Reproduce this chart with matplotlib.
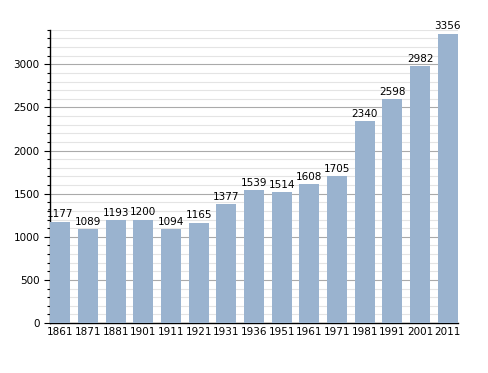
import matplotlib.pyplot as plt
import numpy as np
from matplotlib.ticker import MultipleLocator

years = ["1861", "1871", "1881", "1901", "1911", "1921", "1931", "1936",
         "1951", "1961", "1971", "1981", "1991", "2001", "2011"]
population = [1177, 1089, 1193, 1200, 1094, 1165, 1377, 1539,
              1514, 1608, 1705, 2340, 2598, 2982, 3356]

fig = plt.figure(figsize=(4.88, 3.73), dpi=100)
ax = fig.add_axes([0.1025, 0.134, 0.836, 0.786])

x = np.arange(len(years))
ax.bar(x, population, width=0.73, color="#9ab3cf", zorder=3)
for xi, v in zip(x, population):
    ax.text(xi, v + 25, str(v), ha="center", va="bottom", fontsize=7.5, zorder=4)

ax.set_xlim(-0.37, len(years) - 0.63)
ax.set_ylim(0, 3400)
ax.set_xticks(x)
ax.set_xticklabels(years, fontsize=7.5)
ax.yaxis.set_major_locator(MultipleLocator(500))
ax.yaxis.set_minor_locator(MultipleLocator(100))
ax.tick_params(axis="y", labelsize=7.5, length=4, width=0.8)
ax.tick_params(axis="y", which="minor", length=2.5, width=0.8)
ax.tick_params(axis="x", length=0, pad=3)
ax.grid(axis="y", which="major", color="#aaaaaa", linewidth=0.8, zorder=0)
ax.grid(axis="y", which="minor", color="#e4e4e4", linewidth=0.8, zorder=0)

for side in ["top", "right"]:
    ax.spines[side].set_visible(False)
ax.spines["left"].set_linewidth(1.0)
ax.spines["bottom"].set_linewidth(1.0)

fig.savefig("out.png", dpi=100)
